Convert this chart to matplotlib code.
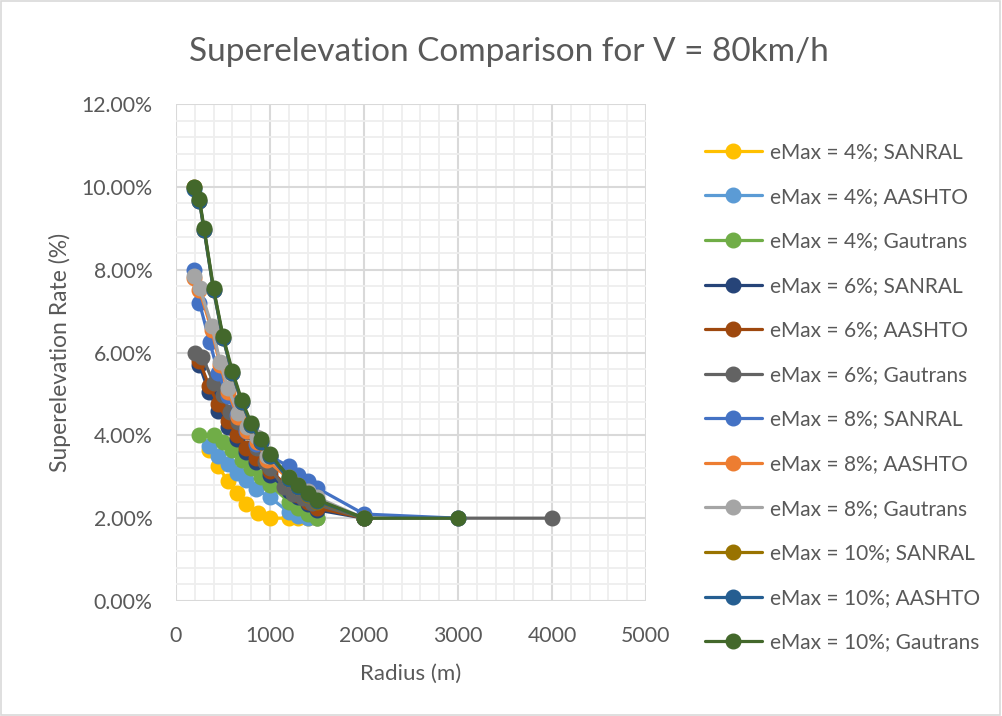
import matplotlib.pyplot as plt
from matplotlib.ticker import MultipleLocator, FuncFormatter
from matplotlib.patches import Rectangle

plt.rcParams["font.family"] = ["Lato", "DejaVu Sans"]

# Radius (m) and superelevation (%), one pair per series
labels = [
    "eMax = 4%; SANRAL", "eMax = 4%; AASHTO", "eMax = 4%; Gautrans",
    "eMax = 6%; SANRAL", "eMax = 6%; AASHTO", "eMax = 6%; Gautrans",
    "eMax = 8%; SANRAL", "eMax = 8%; AASHTO", "eMax = 8%; Gautrans",
    "eMax = 10%; SANRAL", "eMax = 10%; AASHTO", "eMax = 10%; Gautrans",
]
colors = [
    "#FFC000", "#5B9BD5", "#70AD47",
    "#264478", "#9E480E", "#636363",
    "#4472C4", "#ED7D31", "#A5A5A5",
    "#997300", "#255E91", "#43682B",
]

r_4_sanral = [350, 450, 550, 650, 750, 875, 1000, 1200, 1300, 1400, 1500]
e_4_sanral = [3.65, 3.25, 2.9, 2.6, 2.35, 2.12, 2.0, 2.0, 2.0, 2.0, 2.0]

r_4_aashto = [350, 450, 550, 650, 750, 850, 1000, 1200, 1300, 1400, 1500]
e_4_aashto = [3.75, 3.5, 3.3, 3.1, 2.92, 2.7, 2.5, 2.15, 2.05, 2.0, 2.0]

r_4_gautrans = [250, 400, 500, 600, 700, 800, 900, 1000, 1200, 1300, 1400, 1500]
e_4_gautrans = [4.0, 4.0, 3.85, 3.65, 3.4, 3.2, 3.0, 2.8, 2.4, 2.25, 2.1, 2.0]

r_6_sanral = [250, 350, 450, 550, 650, 750, 850, 1000, 1200, 1300, 1400, 1500, 2000]
e_6_sanral = [5.7, 5.05, 4.6, 4.2, 3.9, 3.6, 3.35, 3.05, 2.65, 2.5, 2.35, 2.2, 2.0]

r_6_aashto = [250, 350, 450, 550, 650, 750, 850, 1000, 1200, 1300, 1400, 1500, 2000]
e_6_aashto = [5.8, 5.2, 4.75, 4.35, 4.0, 3.7, 3.45, 3.15, 2.75, 2.55, 2.4, 2.25, 2.0]

r_6_gautrans = [200, 280, 400, 500, 575, 660, 765, 860, 950, 1000, 1150, 1250, 1350, 1450, 2000, 3000, 4000]
e_6_gautrans = [6.0, 5.9, 5.27, 4.97, 4.56, 4.32, 4.08, 3.7, 3.36, 3.2, 2.75, 2.58, 2.48, 2.36, 2.0, 2.0, 2.0]

r_8_sanral = [190, 250, 360, 450, 550, 650, 750, 850, 1000, 1200, 1300, 1400, 1500, 2000, 3000]
e_8_sanral = [8.0, 7.2, 6.25, 5.5, 4.95, 4.5, 4.1, 3.8, 3.5, 3.25, 3.05, 2.9, 2.73, 2.1, 2.0]

r_8_aashto = [190, 250, 380, 470, 555, 660, 760, 860, 970, 1200, 1300, 1400, 1500, 2000]
e_8_aashto = [7.8, 7.5, 6.55, 5.7, 5.05, 4.45, 4.1, 3.85, 3.4, 2.95, 2.75, 2.6, 2.45, 2.0]

r_8_gautrans = [190, 255, 380, 470, 555, 660, 760, 860, 970, 1200, 1300, 1400, 1500, 2000]
e_8_gautrans = [7.85, 7.55, 6.65, 5.77, 5.14, 4.54, 4.2, 3.96, 3.5, 3.0, 2.8, 2.65, 2.5, 2.0]

r_10_sanral = [190, 250, 300, 400, 500, 600, 700, 800, 900, 1000, 1200, 1300, 1400, 1500, 2000]
e_10_sanral = [10.0, 9.65, 8.95, 7.5, 6.35, 5.5, 4.8, 4.25, 3.85, 3.5, 2.95, 2.75, 2.55, 2.4, 2.0]

r_10_aashto = [190, 250, 300, 400, 500, 600, 700, 800, 900, 1000, 1200, 1300, 1400, 1500, 2000]
e_10_aashto = [9.95, 9.65, 8.95, 7.5, 6.35, 5.5, 4.8, 4.25, 3.85, 3.5, 2.95, 2.75, 2.58, 2.42, 2.0]

r_10_gautrans = [190, 250, 300, 400, 500, 600, 700, 800, 900, 1000, 1200, 1300, 1400, 1500, 2000, 3000]
e_10_gautrans = [10.0, 9.7, 9.0, 7.55, 6.4, 5.55, 4.85, 4.3, 3.9, 3.55, 3.0, 2.8, 2.6, 2.45, 2.0, 2.0]

radii = [r_4_sanral, r_4_aashto, r_4_gautrans, r_6_sanral, r_6_aashto, r_6_gautrans,
         r_8_sanral, r_8_aashto, r_8_gautrans, r_10_sanral, r_10_aashto, r_10_gautrans]
rates = [e_4_sanral, e_4_aashto, e_4_gautrans, e_6_sanral, e_6_aashto, e_6_gautrans,
         e_8_sanral, e_8_aashto, e_8_gautrans, e_10_sanral, e_10_aashto, e_10_gautrans]

text_col = "#595959"

fig = plt.figure(figsize=(10.02, 7.16), dpi=100)
fig.patches.append(Rectangle((0.001, 0.001), 0.997, 0.997, transform=fig.transFigure,
                             fill=False, edgecolor="#D9D9D9", linewidth=1.2))
ax = fig.add_axes([0.1756, 0.1606, 0.4691, 0.6941])

for r, e, lab, c in zip(radii, rates, labels, colors):
    ax.plot(r, [v / 100 for v in e], color=c, linewidth=2.3, marker="o",
            markersize=10.5, label=lab, solid_capstyle="round")

ax.set_xlim(0, 5000)
ax.set_ylim(0, 0.12)
ax.xaxis.set_major_locator(MultipleLocator(1000))
ax.xaxis.set_minor_locator(MultipleLocator(200))
ax.yaxis.set_major_locator(MultipleLocator(0.02))
ax.yaxis.set_minor_locator(MultipleLocator(0.004))
ax.yaxis.set_major_formatter(FuncFormatter(lambda v, p: f"{v * 100:.2f}%"))

ax.grid(which="minor", color="#EEEEEE", linewidth=1.3)
ax.grid(which="major", color="#D9D9D9", linewidth=1.5)
ax.set_axisbelow(True)
for s in ax.spines.values():
    s.set_visible(False)
ax.tick_params(which="both", length=0, labelsize=15.3, labelcolor=text_col)
ax.tick_params(axis="y", pad=17)
ax.tick_params(axis="x", pad=18)

fig.text(0.508, 0.927, "Superelevation Comparison for V = 80km/h", fontsize=24,
         color=text_col, ha="center", va="center")
ax.set_xlabel("Radius (m)", fontsize=16, color=text_col, labelpad=13)
ax.set_ylabel("Superelevation Rate (%)", fontsize=16.5, color=text_col, labelpad=7)

leg = ax.legend(loc="center left", bbox_to_anchor=(1.107, 0.41), frameon=False,
                fontsize=15, labelspacing=1.18, handlelength=2.75, handletextpad=0.4,
                borderaxespad=0)
for t in leg.get_texts():
    t.set_color(text_col)

fig.savefig("out.png", dpi=100)
